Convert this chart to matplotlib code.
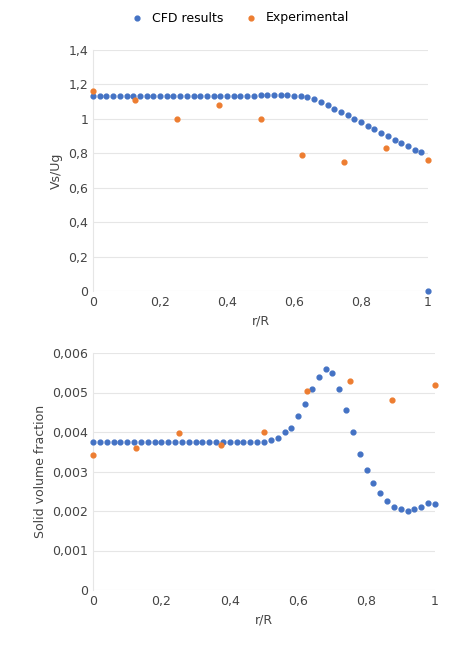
import numpy as np
import matplotlib.pyplot as plt

blue = '#4472C4'; orange = '#ED7D31'
# top chart
r_cfd1 = [round(0.02*i, 2) for i in range(50)] + [1.0]
v_cfd1 = [1.13]*24 + [1.135, 1.14, 1.14, 1.14, 1.14, 1.14, 1.135, 1.13,
          1.125, 1.115, 1.10, 1.08, 1.06, 1.04, 1.02, 1.00, 0.98, 0.96, 0.94,
          0.92, 0.90, 0.88, 0.86, 0.84, 0.82, 0.81, 0.0]
r_exp = [0, 0.125, 0.25, 0.375, 0.5, 0.625, 0.75, 0.875, 1.0]
v_exp1 = [1.16, 1.11, 1.0, 1.08, 1.0, 0.79, 0.75, 0.83, 0.76]
# bottom chart
r_cfd2 = [round(0.02*i, 2) for i in range(51)]
v_cfd2 = [0.00375]*26 + [0.0038, 0.00385, 0.004, 0.0041, 0.0044, 0.0047,
          0.0051, 0.0054, 0.0056, 0.0055, 0.0051, 0.00455, 0.004, 0.00345,
          0.00305, 0.0027, 0.00245, 0.00225, 0.0021, 0.00205, 0.002, 0.00205,
          0.0021, 0.0022, 0.00218]
v_exp2 = [0.00343, 0.0036, 0.00397, 0.00368, 0.004, 0.00505, 0.00528, 0.0048, 0.0052]

fig = plt.figure(figsize=(4.73, 6.5), dpi=100)
ax1 = fig.add_axes([93/473, 1-291/650, 335/473, 241/650])
ax2 = fig.add_axes([93/473, 1-590/650, 342/473, 237/650])

def style(ax):
    for s in ['top', 'right', 'bottom']:
        ax.spines[s].set_visible(False)
    ax.spines['left'].set_color('#e6e6e6')
    ax.yaxis.grid(True, color='#e6e6e6', lw=0.8)
    ax.set_axisbelow(True)
    ax.tick_params(length=0, colors='#444444', labelsize=9)
    ax.set_xlim(0, 1)
    ax.set_xticks([0, 0.2, 0.4, 0.6, 0.8, 1])
    ax.set_xticklabels(['0', '0,2', '0,4', '0,6', '0,8', '1'])
    ax.set_xlabel('r/R', color='#444444', fontsize=9)

ax1.scatter(r_cfd1, v_cfd1, s=12, color=blue, zorder=3, label='CFD results', clip_on=False)
ax1.scatter(r_exp, v_exp1, s=12, color=orange, zorder=3, label='Experimental', clip_on=False)
style(ax1)
ax1.set_ylim(0, 1.4)
ax1.set_yticks([0, 0.2, 0.4, 0.6, 0.8, 1, 1.2, 1.4])
ax1.set_yticklabels(['0', '0,2', '0,4', '0,6', '0,8', '1', '1,2', '1,4'])
ax1.set_ylabel('Vs/Ug', color='#444444', fontsize=9)

ax2.scatter(r_cfd2, v_cfd2, s=12, color=blue, zorder=3, clip_on=False)
ax2.scatter(r_exp, v_exp2, s=12, color=orange, zorder=3, clip_on=False)
style(ax2)
ax2.set_ylim(0, 0.006)
ax2.set_yticks([0, 0.001, 0.002, 0.003, 0.004, 0.005, 0.006])
ax2.set_yticklabels(['0', '0,001', '0,002', '0,003', '0,004', '0,005', '0,006'])
ax2.set_ylabel('Solid volume fraction', color='#444444', fontsize=9)

fig.legend(*ax1.get_legend_handles_labels(), loc='center', bbox_to_anchor=(0.5, 1-18/650),
           ncol=2, frameon=False, fontsize=9, handletextpad=0.2, columnspacing=1.2)
fig.savefig('out.png')
